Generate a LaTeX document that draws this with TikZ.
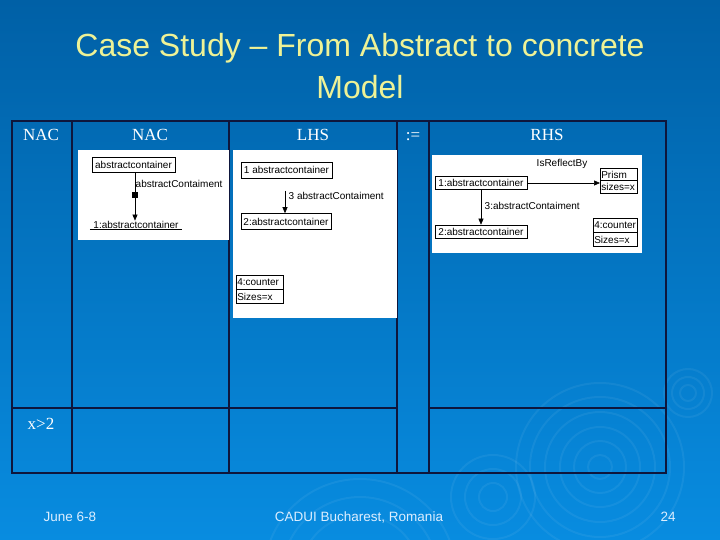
\documentclass[tikz,border=0pt]{standalone}
\usepackage{fontspec}
\setmainfont{Liberation Serif}
\setsansfont{Liberation Sans}
\usetikzlibrary{arrows.meta,shapes.multipart}
\definecolor{bgtop}{RGB}{0,96,166}
\definecolor{bgbot}{RGB}{8,140,224}
\definecolor{tblc}{RGB}{14,22,60}
\definecolor{titlec}{RGB}{238,242,150}
\definecolor{footc}{RGB}{220,238,255}
\newcommand{\umlfont}{\fontsize{10}{10.5}\selectfont\sffamily}
\begin{document}
\begin{tikzpicture}[x=1pt,y=-1pt,
  tbl/.style={draw=tblc, line width=1.6pt},
  hdr/.style={text=white, font=\fontsize{17}{17}\selectfont\rmfamily, inner sep=0pt},
  titletext/.style={text=titlec, font=\fontsize{32}{32}\selectfont\sffamily, inner sep=0pt},
  foot/.style={text=footc, font=\fontsize{13.5}{14}\selectfont\sffamily, inner sep=0pt},
  panel/.style={fill=white},
  umlbox/.style={draw=black, line width=0.6pt, inner sep=0.5pt, font=\umlfont, text=black},
  umltxt/.style={inner sep=0.5pt, font=\umlfont, text=black},
  cls/.style={rectangle split, rectangle split parts=2, draw=black, line width=0.6pt,
    inner xsep=1pt, inner ysep=3.2pt, font=\umlfont, text=black, align=left},
  arr/.style={-{Triangle[length=6pt,width=5pt]}, line width=0.6pt, draw=black},
  conn/.style={line width=0.6pt, draw=black},
  ripple/.style={draw=white, opacity=0.06, line width=2pt}
]
\useasboundingbox (0,0) rectangle (720,540);
\shade[top color=bgtop, bottom color=bgbot] (0,0) rectangle (720,540);

% ripples
\foreach \r in {12,26,40,55,70,84}{\draw[ripple] (600,467) circle (\r);}
\foreach \r in {8,16,24}{\draw[ripple] (688,393) circle (\r);}
\foreach \r in {14,28,42}{\draw[ripple] (493,497) circle (\r);}
\foreach \r in {60,78,96}{\draw[ripple] (360,575) circle (\r);}

% title
\node[titletext] (t1) at (360,48) {Case Study – From Abstract to concrete};
\node[titletext] (t2) at (360,87) {Model};

% table
\draw[tbl, line width=2pt] (12,121) rectangle (666,473);
\foreach \x in {72,229,397,429}{\draw[tbl] (\x,121) -- (\x,473);}
\draw[tbl] (12,408) -- (397,408);
\draw[tbl] (429,408) -- (666,408);

% headers
\node[hdr] (h1) at (41,135) {NAC};
\node[hdr] (h2) at (150,135) {NAC};
\node[hdr] (h3) at (313,135) {LHS};
\node[hdr] (h4) at (413,137) {:=};
\node[hdr] (h5) at (547,135) {RHS};
\node[hdr] (h6) at (41,424) {x>2};

% NAC panel
\fill[panel] (78,150) rectangle (229,240);
\node[umlbox, minimum width=83pt, minimum height=15pt] (a1) at (133.5,164.5) {abstractcontainer};
\node[umltxt, anchor=west] (a2) at (135,184) {abstractContaiment};
\node[fill=black, minimum size=6pt, inner sep=0pt] (sq1) at (135,195) {};
\node[umltxt, minimum width=92pt] (b1) at (136,225) {1:abstractcontainer};
\draw[conn] (b1.south west) -- (b1.south east);
\draw[conn] (a1.south -| sq1) -- (sq1);
\draw[arr] (sq1) -- (b1.north -| sq1);

% LHS panel
\fill[panel] (233,150) rectangle (397,318);
\node[umlbox, minimum width=91pt, minimum height=16pt] (c1) at (286.5,170) {1 abstractcontainer};
\coordinate (c3s) at (285,191);
\node[umltxt, anchor=west] (c3) at (288,196) {3 abstractContaiment};
\node[umlbox, minimum width=90pt, minimum height=16pt] (c2) at (286,221.5) {2:abstractcontainer};
\draw[arr] (c3s) -- (c2.north -| c3s);
\node[cls, text width=45pt, anchor=north west] (c4) at (236,275) {4:counter\nodepart{two}Sizes=x};

% RHS panel
\fill[panel] (432,155) rectangle (642,253);
\node[umlbox, minimum width=92pt, minimum height=13pt] (d1) at (481,183) {1:abstractcontainer};
\node[cls, text width=35pt, inner ysep=2.2pt, anchor=north west] (d5) at (600,168) {Prism\nodepart{two}sizes=x};
\node[umltxt] (d6) at (562,164) {IsReflectBy};
\draw[arr] (d1.east) -- (d1.east -| d5.west);
\node[umlbox, minimum width=92pt, minimum height=13pt] (d2) at (481,231.5) {2:abstractcontainer};
\node[umltxt, anchor=west] (d3) at (484,206) {3:abstractContaiment};
\draw[arr] (d1.south) -- (d2.north);
\node[cls, text width=42pt, anchor=north west] (d4) at (593,218) {4:counter\nodepart{two}Sizes=x};

% footer
\node[foot] (f1) at (70,517) {June 6-8};
\node[foot] (f2) at (359,517) {CADUI Bucharest, Romania};
\node[foot] (f3) at (668,517) {24};
\end{tikzpicture}
\end{document}
